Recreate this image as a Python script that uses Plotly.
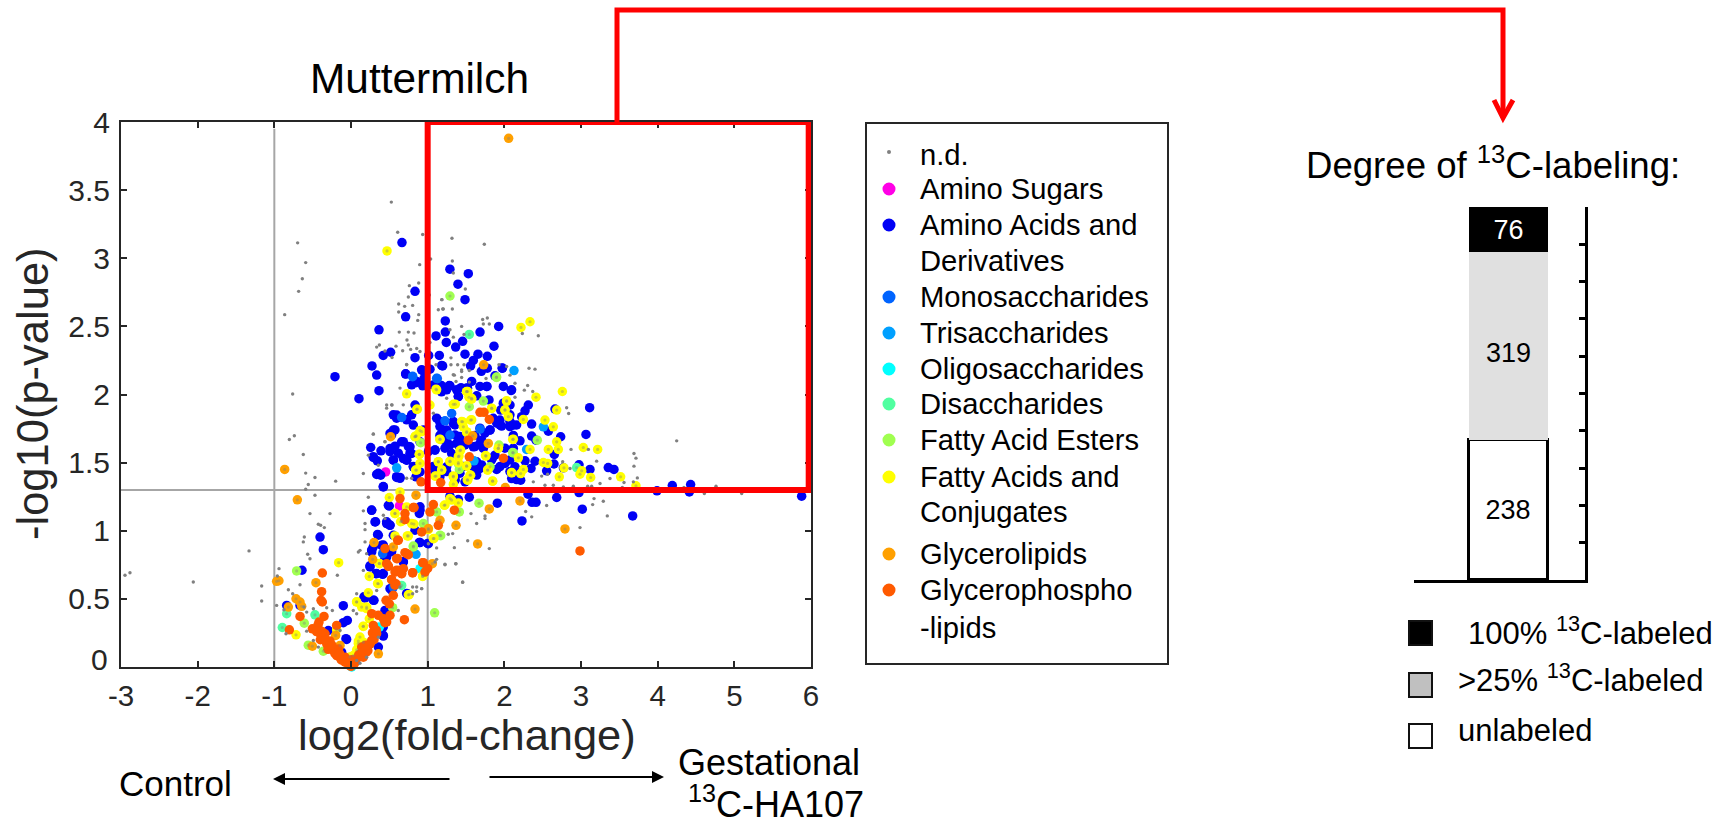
import plotly.graph_objects as go

# log2(fold-change), -log10(p-value) pairs
nd = [(0.526,3.412),(0.609,3.191),(0.935,3.174),(1.039,2.995),(0.896,2.953),(-0.696,3.113),(-0.591,2.968),(-0.635,2.85),(-0.683,2.757),(-0.865,2.586),
(0.761,2.799),(0.883,2.818),(1.022,2.73),(0.748,2.716),(0.622,2.664),(0.7,2.647),(0.804,2.654),(0.622,2.605),(0.883,2.586),(0.87,2.544),(0.63,2.458),(0.748,2.458),(0.822,2.451),(0.73,2.4),(0.748,2.363),(0.587,2.355),(0.335,2.348),(0.37,2.363),(0.443,2.319),(0.674,2.321),(0.778,2.331),(0.857,2.338),(0.9,2.316),(0.535,2.272),(0.726,2.22),(1.139,2.622),(1.204,2.627),(1.183,2.696),
(1.317,3.147),(1.739,3.103),(1.322,2.98),(1.335,2.892),(1.491,2.774),(1.187,2.696),(1.196,2.627),(1.322,2.627),(1.717,2.551),(1.778,2.561),(1.726,2.517),(1.804,2.517),(1.443,2.5),(2.235,2.448),(2.443,2.431),(1.474,2.441),(1.291,2.475),(1.335,2.421),(1.03,2.382),(1.304,2.269),(1.304,2.218),(1.391,2.218),(1.474,2.218),(1.109,2.218),(1.93,2.218),(2.03,2.206),(1.443,2.169),(1.443,2.125),(1.348,2.142),(1.543,2.176),(1.761,2.117),(2.074,2.142),(2.139,2.083),(2.322,2.193),(2.4,2.186),(2.304,2.066),(2.261,2.032),(2.37,2.022),(2.139,1.98),(1.543,2.091),(1.37,2.095),(1.248,1.973),
(2.813,1.903),(2.839,1.861),(4.248,1.66),(3.691,1.567),(3.717,1.533),(3.691,1.474),(3.735,1.388),(3.683,1.359),(3.561,1.354),(3.378,1.383),(3.204,1.511),(3.096,1.597),(2.87,1.597),(2.761,1.506),(2.857,1.457),(3.248,1.347),(3.139,1.327),(3.087,1.327),(2.77,1.322),(2.639,1.334),(2.53,1.334),(2.378,1.359),(2.487,1.401),(2.565,1.415),(2.9,1.327),(3.539,1.317),(4.761,1.327),(4.609,1.273),(5.096,1.273),(4.343,1.317),(3.17,1.236),(3.291,1.217),(3.152,1.192),(2.552,1.185),(3.343,1.109),(2.987,1.023),(2.278,1.141),(2.357,1.102),(1.748,1.109),(1.748,1.089),(1.639,1.053),(1.565,1.126),(1.269,0.974),(1.326,0.979),(1.522,0.927),(1.804,0.869),(1.348,0.876),(1.117,0.874),(1.117,0.79),(1.226,0.751),(1.365,0.758),(1.456,0.621),(0.856,0.555),(0.922,0.575),(0.804,0.587),(1.009,0.905),
(-0.761,2.004),(-0.804,1.67),(-0.739,1.697),(-0.622,1.56),(-0.591,1.423),(-0.47,1.391),(-0.557,1.339),(-0.591,1.305),(-0.2,1.364),(-0.47,1.261),(-0.535,1.126),(-0.274,1.126),(-0.426,1.048),(-0.396,1.04),(-0.348,1.023),(-0.609,0.954),(-0.622,0.918),(-0.565,0.827),(-0.535,0.795),(-1.33,0.852),(-2.883,0.692),(-2.948,0.673),(-2.057,0.624),(-0.939,0.722),(-0.961,0.668),(-1.165,0.594),(-1.165,0.484),(-0.817,0.567),(-0.665,0.604),(-0.761,0.538),(-0.97,0.452),(-0.874,0.42),(-0.578,0.403),(-0.613,0.44),(-0.491,0.428),(-0.317,0.435),(-0.243,0.415),(-0.848,0.244),(-0.578,0.263),(-0.426,0.146),(-0.178,0.673),(0.161,1.42),(0.096,0.844),(0.117,0.856),(0.161,1.146),(0.183,1.053),(0.183,1.008),(0.183,0.918),(0.226,1.246),(0.465,1.923),(0.535,1.923),(0.291,1.709),(0.443,1.653),(0.226,1.555),(0.357,1.481),(0.422,1.114),(0.443,1.089),(0.074,0.538),(0.074,0.391),(0.03,0.415),(0.922,0.575),(1.096,0.771),(1.226,0.754),(1.37,0.758),(1.457,0.624),(0.857,0.587),(0.804,0.538),(0.335,0.562),(0.617,0.415),(0.639,0.587),(0.161,0.709),(0.204,0.832),(0.074,0.048),(0.204,0.072),(0.117,0.028),(0.357,0.219),(-0.491,0.195),(-0.143,0.268),
(0.726,2.218),(0.53,1.924),(0.465,1.9),(0.639,2.047),(0.291,1.711),(0.443,1.654),(0.682,1.924),(1.074,1.863),(1.334,2.145),(1.443,2.181),(0.726,1.385),(0.791,1.385)]

amino_acids = [(0.665,3.115),(0.274,2.21),(0.365,2.475),(0.713,2.57),(0.835,2.757),(0.42,2.287),(0.517,2.31),(0.835,2.27),(1.109,2.43),(1.23,2.54),
(1.29,2.92),(1.53,2.887),(1.395,2.81),(1.487,2.696),(1.23,2.458),(1.243,2.382),(1.456,2.39),(1.365,2.348),(1.683,2.458),(1.926,2.5),(1.865,2.355),(1.487,2.296),(1.656,2.296),(1.778,2.28),(1.152,2.287),(1.013,2.287),(1.596,2.25),(1.56,2.21),(1.195,2.21),(1.03,2.186),(0.935,2.176),(1.70,2.17),(1.778,2.193),(1.974,2.193),(1.878,2.137),(0.713,2.152),(0.952,2.117),(0.848,2.09),(0.935,2.064),(1.282,2.066),(1.18,2.066),(1.074,2.07),(1.18,2.02),(1.435,2.05),(1.52,2.046),(1.774,2.059),(1.987,2.059),(2.09,2.03),(1.40,1.985),(1.64,1.99),(1.80,1.96),
(2.313,1.923),(2.27,1.88),(2.226,1.837),(2.074,1.923),(1.952,1.886),(1.92,1.80),(1.965,1.768),(2.117,1.776),(2.356,1.783),(2.574,1.731),(2.735,1.69),(2.117,1.70),(2.204,1.66),(2.356,1.695),(2.413,1.665),(2.652,1.56),(2.27,1.513),(2.40,1.51),(2.348,1.457),(2.552,1.44),(2.648,1.49),(2.974,1.484),(3.117,1.45),(3.356,1.464),(3.43,1.45),(3.113,1.903),(3.065,1.707),(2.661,1.893),(2.77,1.462),(2.16,1.376),(2.096,1.383),(2.213,1.371),(1.90,1.45),(2.009,1.494),(1.683,1.457),(1.64,1.432),(1.487,1.359),(1.356,1.371),(1.248,1.469),(1.313,1.567),(1.161,1.80),(1.4,1.63),(1.487,1.63),(1.183,1.714),(1.096,1.592),(1.248,1.653),(1.335,1.788),(1.617,1.70),(1.704,1.665),(1.813,1.739),(1.943,1.812),(2.009,1.91),(1.856,1.825),(1.596,1.616),(1.726,1.604),(1.878,1.555),(2.139,1.469),(1.639,1.506),
(2.309,1.268),(2.683,1.244),(2.974,1.28),(3.991,1.293),(4.191,1.332),(4.43,1.339),(4.413,1.285),(5.878,1.254),(3.674,1.109),(3.017,1.158),(2.361,1.209),(2.413,1.209),(1.909,1.202),(2.23,1.072),(1.543,1.246),(1.40,1.229),(1.291,1.254),
(-0.209,2.131),(0.104,1.969),(0.335,2.143),(0.365,2.028),(0.713,2.15),(0.848,2.087),(0.596,1.849),(0.835,1.923),(0.552,1.739),(0.509,1.714),(0.661,1.653),(0.574,1.621),(0.509,1.604),(0.257,1.611),(0.391,1.587),(0.291,1.538),(0.343,1.513),(0.552,1.518),(0.77,1.616),(0.791,1.567),(0.683,1.53),(0.335,1.413),(0.387,1.408),(0.596,1.391),(0.639,1.391),(0.422,1.322),(0.813,1.776),(0.943,1.739),(0.9,1.653),(1.009,1.58),(0.813,1.469),(0.9,1.432),(0.726,1.518),(0.848,1.396),(0.487,1.187),(0.27,1.15),(0.313,1.065),(0.465,1.053),(0.509,1.04),(0.357,0.967),(0.9,1.15),(0.835,1.004),(0.9,0.913),(1.009,0.905),(0.552,0.967),(0.27,0.844),(0.4,0.893),(0.465,0.807),(-0.404,0.954),(-0.361,0.861),(-0.639,0.71),(0.248,0.734),(0.326,0.685),(0.413,0.68),(0.683,0.771),(0.552,0.599),(0.509,0.575),(0.183,0.506),(0.30,0.489),(0.735,0.538),(0.443,0.415),(-0.1,0.45),(-0.048,0.342),(-0.1,0.325),(-0.296,0.268),(-0.057,0.202),(0.422,0.227),(0.357,0.146),(-0.122,0.109),(-0.839,0.452),(-0.665,0.452),
(1.182,2.213),(1.769,2.059),(1.973,2.194),(2.095,2.034),(1.986,1.936),(2.073,1.851),(1.4,1.985),(1.508,2.047),(1.16,1.8),(1.356,1.777),(1.943,1.777),(2.073,1.765),(1.813,1.74),(1.247,1.74),(1.16,1.7),(1.378,1.642),(1.226,1.606),(1.095,1.593),(1.617,1.618),(1.682,1.642),(2.008,1.606),(2.117,1.606),(1.843,1.532),(1.595,1.471),(1.465,1.471),(1.247,1.434),(1.095,1.434),(2.073,1.52),(1.356,1.373),(1.421,1.422),
(1.682,1.753),(1.117,1.826),(1.16,1.765),(1.334,1.802),(1.421,1.691),(1.356,1.703),(1.465,1.642),(1.291,1.63),(1.204,1.667),(1.747,1.716),(1.9,1.79),(2.073,1.801),(2.16,1.777),(1.834,1.52),(1.704,1.483),(1.073,1.471),(1.16,1.397),(1.639,1.409),(1.943,1.471),(2.139,1.458),(2.073,1.434),(1.682,2.059),(1.574,2.096),(1.378,2.034),(1.291,2.064),(1.247,2.034),(0.921,2.181),(0.856,2.096),(0.791,2.071),(0.552,1.851),(0.595,1.826),(0.791,1.851),(0.726,1.814),(0.573,1.74),(0.53,1.703),(0.748,1.618),(0.682,1.654),(0.769,1.569),(0.617,1.569),(0.508,1.581),(0.291,1.544),(0.552,1.52),(0.726,1.52),(0.813,1.471),(0.595,1.397),(0.639,1.385),(0.356,1.422),(0.421,1.324),
(0.269,1.152),(0.321,1.066),(0.465,1.066),(0.508,1.042),(0.347,0.973),(0.269,0.858),(0.291,0.882),(0.421,0.895),(0.53,0.846),(0.443,0.797),(0.247,0.743),(0.334,0.686),(0.421,0.686),(0.682,0.772),(0.891,0.914),(1.0,0.907),(0.891,1.127),(0.9,1.176),(0.5,1.181),(0.53,0.564),(0.726,0.539),(0.169,0.515),(0.291,0.49),(0.421,0.294),(-0.066,0.208),(0.421,0.233)]

fatty_acids = [(0.47,3.054),(2.217,2.492),(2.335,2.534),(2.757,2.022),(2.413,1.98),(1.109,2.039),(1.522,2.022),(1.539,1.98),(2.03,1.95),(0.726,2.005),
(1.335,1.928),(1.509,2.021),(1.574,1.972),(2.03,1.955),(2.009,1.886),(2.052,1.837),(2.248,1.817),(2.53,1.812),(2.639,1.763),(2.683,1.886),(2.683,1.653),(2.574,1.597),(2.704,1.597),(3.03,1.611),(3.217,1.597),(2.109,1.67),(2.335,1.597),(2.183,1.535),(2.509,1.501),(2.565,1.494),(2.778,1.462),(2.717,1.396),(3.009,1.44),(2.987,1.415),(3.126,1.391),(3.517,1.396),(3.717,1.33),(2.248,1.45),(2.213,1.42),(2.096,1.425),(1.922,1.604),(1.761,1.548),(1.561,1.812),(1.456,1.8),(1.465,1.763),(1.835,1.898),(1.161,1.67),(1.43,1.592),(1.409,1.548),(1.291,1.511),(1.139,1.506),(1.183,1.445),(1.096,1.4),(1.335,1.396),(1.4,1.5),(1.509,1.474),(1.561,1.408),(1.522,1.371),(1.335,1.342),(1.783,1.445),(1.848,1.364),(1.509,1.727),(1.03,1.923),(0.856,1.891),(0.922,1.727),(0.835,1.69),(0.891,1.56),(0.9,1.494),(0.856,1.445),(1.291,1.236),(1.4,1.204),(1.217,1.187),(0.735,0.962),
(0.848,1.695),(0.843,1.445),(0.5,1.244),(0.639,1.285),(0.726,1.175),(0.574,1.126),(0.661,1.07),(0.791,1.053),(0.748,0.962),(0.574,0.962),(1.074,0.942),(0.935,0.665),(0.239,0.665),(0.357,0.611),(0.37,0.758),(0.226,0.545),(0.074,0.477),(0.139,0.44),(0.204,0.44),(0.748,0.53),(0.239,0.354),(0.161,0.298),(-0.161,0.766),(-0.717,0.236),(0.117,0.22),(0.096,0.19),(0.161,0.182),(0.03,0.084),(0.074,0.126),(-0.187,0.273),(1.009,1.008),
(0.573,1.127),(0.647,1.066),(0.821,1.049),(1.082,0.944),(1.226,1.189),(1.313,1.225),(0.369,0.76),(0.347,0.613),(0.934,0.667),(0.76,0.532),(0.073,0.478),(0.204,0.429),(0.095,0.172),(0.16,0.299),(-0.014,0.074),
(1.36,1.929),(1.117,2.034),(1.508,2.022),(1.573,1.966),(1.834,1.9),(2.008,1.887),(1.574,1.814),(1.443,1.801),(1.16,1.672),(2.117,1.672),(1.921,1.606),(1.421,1.588),(1.4,1.544),(1.756,1.552),(1.139,1.507),(1.291,1.507),(1.508,1.476),(1.182,1.446),(1.108,1.402),(1.334,1.402),(1.552,1.409),(1.517,1.373),(1.782,1.446),(1.847,1.365),(2.095,1.427),(0.865,1.892),(0.9,1.735),(0.847,1.696),(1.508,1.721),(0.891,1.561)]

fatty_acid_esters = [(1.291,2.723),(1.896,2.125),(1.091,0.398),(1.67,1.202),(1.413,1.138),(1.117,1.138),(1.17,0.964),(0.813,0.888),(1.726,1.952),(1.543,1.91),(1.93,1.629),(2.117,1.572),(1.813,1.469),(1.413,1.45),(2.43,1.665),(-0.709,0.705),(-0.609,0.322),(-0.557,0.16),(-0.361,0.116),(0.835,1.69),(0.909,1.646),(0.813,0.881),(0.543,0.435),(0.943,1.053),(1.161,0.967),(1.9,2.128),(2.108,1.574),(1.4,1.49)]

disaccharides = [(1.543,2.441),(2.943,1.464),(0.661,0.599),(-0.839,0.391),(-0.47,0.383),(-0.896,0.29)]
oligosaccharides = [(0.9,0.722),(0.009,0.0),(0.37,0.293)]
trisaccharides = [(2.126,2.176),(2.509,1.763),(2.291,1.597),(1.604,1.513),(0.596,1.462),(0.848,0.827)]
monosaccharides = [(1.683,1.746),(1.313,1.861),(1.226,1.807),(1.291,1.702),(0.804,2.134),(1.126,2.117),(0.661,1.832),(1.117,2.119),(0.413,0.832),(0.552,0.587),(0.804,2.131)]
amino_sugars = [(0.452,1.432),(0.631,1.182),(0.443,0.869)]

glycerolipids = [(2.056,3.88),(1.73,2.218),(1.791,1.641),(1.587,1.697),(2.204,1.219),(1.804,1.16),(1.37,1.04),(1.652,0.903),(2.791,1.013),(2.013,1.317),(0.835,0.425),(1.061,0.758),(0.848,1.261),(1.161,1.077),
(-0.865,1.45),(-0.7,1.227),(-0.97,0.629),(-0.94,0.633),(-0.457,0.619),(-0.717,0.501),(-0.643,0.445),(-0.817,0.44),(-0.665,0.477),(-0.504,0.153),(-0.2,0.232),(0.357,0.097),(0.517,1.69),(0.3,0.913),(0.283,0.79),(0.552,0.881),(1.009,1.016),(-0.143,0.158)]

glycerophospholipids = [(2.987,0.852),(1.987,1.533),(1.543,1.543),(1.53,1.665),(1.683,1.869),(1.735,1.869),(1.804,1.817),(1.17,1.354),(1.348,1.151),(1.074,1.192),(1.03,1.138),(1.139,1.04),(0.696,0.347),(0.935,0.766),(0.804,0.692),(0.922,0.991),(0.822,1.17),
(0.913,1.359),(0.639,1.236),(0.813,1.17),(0.704,1.126),(0.704,1.082),(0.609,0.93),(0.704,0.839),(0.596,0.795),(0.943,0.766),(0.617,0.709),(0.683,0.722),(0.661,0.685),(0.574,0.697),(0.965,0.697),(0.53,0.641),(0.587,0.611),(0.487,0.739),(0.552,0.526),(0.457,0.489),(0.5,0.464),(0.27,0.391),(0.357,0.379),(0.422,0.354),(0.509,0.379),(0.443,0.325),(0.291,0.305),(-0.374,0.69),(-0.383,0.553),(-0.391,0.489),(-0.374,0.477),(-0.665,0.371),(-0.352,0.371),(-0.804,0.273),(-0.504,0.28),(-0.417,0.33),(-0.187,0.305),
(-0.426,0.28),(-0.404,0.244),(-0.361,0.207),(-0.317,0.17),(-0.274,0.146),(-0.23,0.121),(-0.187,0.084),(-0.135,0.06),(-0.078,0.035),(-0.022,0.011),(0.0,0.005),(0.03,0.023),(0.074,0.06),(0.126,0.097),(0.183,0.121),(0.226,0.158),(0.27,0.195),(0.326,0.244),(0.139,0.146),(0.2,0.109),(-0.274,0.19),(-0.165,0.133),(-0.078,0.072),(0.009,0.054),(0.161,0.072),(-0.339,0.244),(0.748,0.824),(0.443,0.869),(0.465,0.758),
(-0.4,0.2),(-0.33,0.2),(-0.38,0.26),(-0.3,0.13),(-0.25,0.16),(-0.21,0.1),(-0.15,0.1),(-0.12,0.05),(-0.05,0.05),(0.05,0.03),(0.1,0.09),(0.16,0.11),(0.22,0.12),(0.25,0.17),(0.3,0.2),(0.33,0.27),(0.28,0.25),(0.19,0.16),(-0.43,0.31),(-0.45,0.26),
(0.617,0.931),(0.726,0.833),(0.486,0.743),(0.604,0.797),(0.595,0.711),(0.66,0.686),(0.804,0.691),(1.0,0.723),(0.53,0.642),(0.573,0.6),(0.465,0.331),(0.334,0.245)]

classes = [
    ("Amino Sugars", amino_sugars, "#ff00e6"),
    ("Amino Acids and Derivatives", amino_acids, "#0000f5"),
    ("Monosaccharides", monosaccharides, "#0064ff"),
    ("Trisaccharides", trisaccharides, "#00a0ff"),
    ("Oligosaccharides", oligosaccharides, "#00ffff"),
    ("Disaccharides", disaccharides, "#50ffa0"),
    ("Fatty Acid Esters", fatty_acid_esters, "#a0ff50"),
    ("Fatty Acids and Conjugates", fatty_acids, "#ffff00"),
    ("Glycerolipids", glycerolipids, "#ffa000"),
    ("Glycerophospholipids", glycerophospholipids, "#ff5a00"),
]

x_ticks = [-3, -2, -1, 0, 1, 2, 3, 4, 5, 6]
x_tick_labels = ["-3", "-2", "-1", "0", "1", "2", "3", "4", "5", "6"]
y_ticks = [0, 0.5, 1, 1.5, 2, 2.5, 3, 3.5, 4]
y_tick_labels = ["", "0.5", "1", "1.5", "2", "2.5", "3", "3.5", "4"]

bar_counts = [238, 319, 76]
bar_labels = ["238", "", "76"]
bar_fills = ["#ffffff", "#e0e0e0", "#000000"]
bar_text = ["#000000", "#000000", "#ffffff"]

FONT = "Liberation Sans, Arial, sans-serif"
W, H = 1727, 818
px = lambda v: v / W
py = lambda v: 1 - v / H
INK = "#262626"

fig = go.Figure()

for name, pts, color in classes:
    fig.add_trace(go.Scatter(x=[p[0] for p in pts], y=[p[1] for p in pts], mode="markers", name=name,
                             marker=dict(size=9.5, color=color, line=dict(width=0)), showlegend=False,
                             xaxis="x", yaxis="y", cliponaxis=False))

# faint grey centres on the light classes
centre_pts = fatty_acids + fatty_acid_esters + glycerolipids + disaccharides
fig.add_trace(go.Scatter(x=[p[0] for p in centre_pts], y=[p[1] for p in centre_pts], mode="markers", name="centres",
                         marker=dict(size=3.2, color="#808080", opacity=0.4, line=dict(width=0)), showlegend=False,
                         xaxis="x", yaxis="y", cliponaxis=False))
fig.add_trace(go.Scatter(x=[p[0] for p in nd], y=[p[1] for p in nd], mode="markers", name="n.d.",
                         marker=dict(size=3.4, color="#808080", line=dict(width=0)), showlegend=False,
                         xaxis="x", yaxis="y", cliponaxis=False))

for v, label, fill, tc, lw in zip(bar_counts, bar_labels, bar_fills, bar_text, [3, 0, 0]):
    fig.add_trace(go.Bar(x=[0], y=[v], width=[1], text=[label], textposition="inside", insidetextanchor="middle",
                         textangle=0, textfont=dict(family=FONT, size=27, color=tc),
                         marker=dict(color=fill, line=dict(color="#000000", width=lw)), showlegend=False,
                         xaxis="x2", yaxis="y2", cliponaxis=False))

shapes = []
# threshold lines
shapes += [
    dict(type="line", xref="x", yref="y", x0=-3, x1=1, y0=1.3, y1=1.3, line=dict(color="#a6a6a6", width=2), layer="below"),
    dict(type="line", xref="x", yref="y", x0=-1, x1=-1, y0=0, y1=3.95, line=dict(color="#a6a6a6", width=2), layer="below"),
    dict(type="line", xref="x", yref="y", x0=1, x1=1, y0=0, y1=4, line=dict(color="#a6a6a6", width=2), layer="below"),
    dict(type="rect", xref="x", yref="y", x0=1, x1=5.97, y0=1.3, y1=4, line=dict(color="#ff0000", width=6)),
]
# connector
shapes.append(dict(type="path", xref="paper", yref="paper",
                   path=f"M{px(617)},{py(122)} L{px(617)},{py(10)} L{px(1503)},{py(10)} L{px(1503)},{py(118)}",
                   line=dict(color="#ff0000", width=5)))
shapes.append(dict(type="path", xref="paper", yref="paper",
                   path=f"M{px(1494)},{py(100)} L{px(1503)},{py(118)} L{px(1513)},{py(100)}",
                   line=dict(color="#ff0000", width=5)))
# legend box
shapes.append(dict(type="rect", xref="paper", yref="paper", x0=px(866), x1=px(1168), y0=py(664), y1=py(123),
                   line=dict(color=INK, width=2)))

annotations = []
def text(s, x, y, size, anchor="left", color="#000000", angle=0):
    annotations.append(dict(text=s, x=px(x), y=py(y), xref="paper", yref="paper", showarrow=False, xanchor=anchor,
                            yanchor="middle", textangle=angle, font=dict(family=FONT, size=size, color=color)))

# legend rows: text, row centre, swatch colour
legend_rows = [("n.d.", 155, None), ("Amino Sugars", 189, "#ff00e6"), ("Amino Acids and", 225, "#0000f5"),
               ("Derivatives", 261, None), ("Monosaccharides", 297, "#0064ff"), ("Trisaccharides", 333, "#00a0ff"),
               ("Oligosaccharides", 369, "#00ffff"), ("Disaccharides", 404, "#50ffa0"), ("Fatty Acid Esters", 440, "#a0ff50"),
               ("Fatty Acids and", 477, "#ffff00"), ("Conjugates", 512, None), ("Glycerolipids", 554, "#ffa000"),
               ("Glycerophospho", 590, "#ff5a00"), ("-lipids", 628, None)]
for label, y, color in legend_rows:
    text(label, 918, y, 29.2)
    if color:
        shapes.append(dict(type="circle", xref="paper", yref="paper", xsizemode="pixel", ysizemode="pixel",
                           xanchor=px(889), yanchor=py(y), x0=-6.5, x1=6.5, y0=-6.5, y1=6.5,
                           fillcolor=color, line=dict(width=0)))
shapes.append(dict(type="circle", xref="paper", yref="paper", xsizemode="pixel", ysizemode="pixel",
                   xanchor=px(889), yanchor=py(152), x0=-2, x1=2, y0=-2, y1=2, fillcolor="#808080", line=dict(width=0)))

text("Muttermilch", 419, 79, 42.4, "center")
text("log2(fold-change)", 467, 735, 43.4, "center", INK)
text("-log10(p-value)", 33, 394, 43.5, "center", INK, -90)
text("0", 110, 659.5, 30, "right", INK)
text("319", 1508, 353, 27, "center")
text("Control", 117, 783, 35, "left")
text("Gestational", 676, 762, 36, "left")
text("<sup>13</sup>C-HA107", 686, 802, 36, "left")
text("Degree of <sup>13</sup>C-labeling:", 1304, 163, 36.6, "left")
text("100% <sup>13</sup>C-labeled", 1466, 631, 31, "left")
text(">25% <sup>13</sup>C-labeled", 1456, 678, 31, "left")
text("unlabeled", 1456, 730, 31, "left")

# direction arrows
for x0, x1, y in [(451, 273, 779), (488, 664, 777)]:
    annotations.append(dict(text="", x=px(x1), y=py(y), xref="paper", yref="paper", ax=x0 - x1, ay=0,
                            axref="pixel", ayref="pixel", showarrow=True, arrowhead=2, arrowsize=1.2,
                            arrowwidth=2, arrowcolor="#000000"))

# degree key squares
for y0, fill in [(621, "#000000"), (673, "#c0c0c0"), (724, "#ffffff")]:
    shapes.append(dict(type="rect", xref="paper", yref="paper", x0=px(1409), x1=px(1432), y0=py(y0 + 24), y1=py(y0),
                       fillcolor=fill, line=dict(color="#111111", width=2)))

fig.update_layout(
    width=W, height=H, margin=dict(l=0, r=0, t=0, b=0, autoexpand=False), paper_bgcolor="white", plot_bgcolor="white",
    barmode="stack", bargap=0, showlegend=False, shapes=shapes, annotations=annotations,
    font=dict(family=FONT),
    xaxis=dict(domain=[px(121), px(811)], range=[-3, 6], tickvals=x_ticks, ticktext=x_tick_labels, ticks="inside", ticklen=6, tickwidth=2,
               tickcolor=INK, showline=True, linecolor=INK, linewidth=2, mirror="ticks", showgrid=False, zeroline=False,
               tickfont=dict(family=FONT, size=29.5, color=INK), anchor="y", ticklabelstandoff=2),
    yaxis=dict(domain=[py(667), py(122)], range=[0, 4], tickvals=y_ticks,
               ticktext=y_tick_labels, ticks="inside", ticklen=6, tickwidth=2,
               tickcolor=INK, showline=True, linecolor=INK, linewidth=2, mirror="ticks", showgrid=False, zeroline=False,
               tickfont=dict(family=FONT, size=30, color=INK), anchor="x", ticklabelstandoff=3),
    xaxis2=dict(domain=[px(1414), px(1585)], range=[-1.196, 0.968], showticklabels=False, ticks="", showline=True,
                linecolor="#000000", linewidth=3, showgrid=False, zeroline=False, anchor="y2"),
    yaxis2=dict(domain=[py(580), py(207)], range=[0, 633], side="right", showticklabels=False, ticks="inside", ticklen=6,
                tickwidth=3, tickcolor="#000000", tick0=0, dtick=63.3, showline=True, linecolor="#000000", linewidth=3,
                showgrid=False, zeroline=False, anchor="x2"),
)

fig.write_html("out.html", config=dict(displayModeBar=False), post_script="document.body.style.margin='0';")
